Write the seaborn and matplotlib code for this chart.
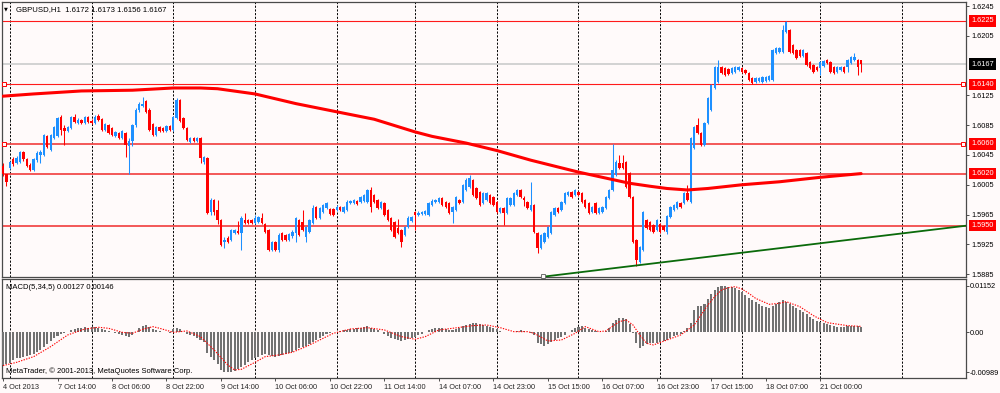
import numpy as np
import matplotlib
matplotlib.use("Agg")
import matplotlib.pyplot as plt
import matplotlib.transforms as mtransforms
import seaborn as sns

# ---------------- data (GBPUSD H1, 4 Oct 21:00 .. 21 Oct 12:00) ----------------
open_ = [
1.6030,1.6020,1.6028,1.6040,1.6034,1.6036,1.6049,1.6040,1.6032,1.6025,
1.6038,1.6045,1.6045,1.6071,1.6052,1.6068,1.6071,1.6096,1.6081,1.6077,
1.6081,1.6096,1.6088,1.6092,1.6088,1.6096,1.6091,1.6088,1.6097,1.6093,
1.6079,1.6085,1.6081,1.6071,1.6075,1.6068,1.6075,1.6057,1.6064,1.6085,
1.6105,1.6111,1.6118,1.6105,1.6087,1.6072,1.6083,1.6081,1.6077,1.6084,
1.6079,1.6095,1.6119,1.6095,1.6081,1.6062,1.6068,1.6064,1.6068,1.6036,
1.6041,1.5968,1.5985,1.5971,1.5958,1.5928,1.5933,1.5931,1.5940,1.5943,
1.5940,1.5958,1.5958,1.5958,1.5954,1.5955,1.5960,1.5952,1.5944,1.5917,
1.5928,1.5917,1.5940,1.5937,1.5931,1.5936,1.5940,1.5958,1.5955,1.5935,
1.5942,1.5954,1.5975,1.5960,1.5968,1.5974,1.5973,1.5973,1.5971,1.5975,
1.5968,1.5971,1.5981,1.5981,1.5983,1.5982,1.5983,1.5982,1.5998,1.5991,
1.5985,1.5974,1.5981,1.5971,1.5960,1.5955,1.5947,1.5944,1.5937,1.5948,
1.5956,1.5968,1.5964,1.5966,1.5966,1.5964,1.5978,1.5982,1.5982,1.5987,
1.5982,1.5981,1.5968,1.5971,1.5985,1.5982,1.5998,1.6002,1.6011,1.6001,
1.5995,1.5981,1.5985,1.5991,1.5989,1.5982,1.5968,1.5974,1.5967,1.5978,
1.5978,1.5991,1.5998,1.5987,1.5982,1.5971,1.5978,1.5940,1.5920,1.5928,
1.5935,1.5940,1.5964,1.5974,1.5971,1.5981,1.5991,1.5995,1.5991,1.5995,
1.5994,1.5985,1.5981,1.5968,1.5981,1.5967,1.5968,1.5974,1.5987,1.5998,
1.6018,1.6034,1.6034,1.6036,1.6021,1.5989,1.5931,1.5901,1.5917,1.5958,
1.5955,1.5951,1.5944,1.5952,1.5950,1.5942,1.5962,1.5971,1.5974,1.5981,
1.5981,1.5994,1.5982,1.6054,1.6085,1.6075,1.6058,1.6088,1.6105,1.6135,
1.6143,1.6163,1.6162,1.6161,1.6155,1.6156,1.6159,1.6162,1.6159,1.6155,
1.6148,1.6143,1.6144,1.6143,1.6144,1.6146,1.6146,1.6182,1.6183,1.6183,
1.6210,1.6213,1.6193,1.6186,1.6186,1.6178,1.6182,1.6170,1.6166,1.6163,
1.6162,1.6165,1.6173,1.6170,1.6163,1.6156,1.6159,1.6163,1.6163,1.6169,
1.6173,1.6173,1.6172]

high = [
1.6034,1.6020,1.6037,1.6042,1.6044,1.6050,1.6050,1.6041,1.6034,1.6041,
1.6050,1.6052,1.6073,1.6072,1.6073,1.6084,1.6096,1.6099,1.6085,1.6084,
1.6097,1.6100,1.6095,1.6093,1.6097,1.6097,1.6093,1.6099,1.6100,1.6095,
1.6088,1.6087,1.6083,1.6077,1.6076,1.6079,1.6076,1.6068,1.6087,1.6108,
1.6116,1.6123,1.6119,1.6108,1.6088,1.6084,1.6084,1.6083,1.6085,1.6085,
1.6097,1.6122,1.6120,1.6096,1.6083,1.6069,1.6069,1.6069,1.6069,1.6044,
1.6042,1.5987,1.5986,1.5985,1.5959,1.5935,1.5936,1.5946,1.5946,1.5956,
1.5963,1.5967,1.5959,1.5959,1.5964,1.5963,1.5967,1.5954,1.5946,1.5929,
1.5929,1.5940,1.5942,1.5939,1.5940,1.5944,1.5962,1.5959,1.5971,1.5950,
1.5959,1.5978,1.5977,1.5975,1.5979,1.5982,1.5974,1.5974,1.5978,1.5977,
1.5977,1.5985,1.5985,1.5986,1.5985,1.5990,1.5993,1.5999,1.6002,1.5993,
1.5986,1.5983,1.5982,1.5973,1.5962,1.5956,1.5959,1.5946,1.5950,1.5963,
1.5963,1.5970,1.5970,1.5970,1.5971,1.5982,1.5986,1.5986,1.5989,1.5989,
1.5983,1.5982,1.5977,1.5990,1.5986,1.6006,1.6014,1.6018,1.6013,1.6002,
1.5997,1.5995,1.5995,1.5993,1.5990,1.5983,1.5975,1.5975,1.5989,1.5989,
1.5995,1.5999,1.5999,1.5990,1.5983,1.6009,1.5979,1.5942,1.5939,1.5942,
1.5950,1.5970,1.5975,1.5975,1.5983,1.5995,1.5997,1.5997,1.5999,1.5997,
1.5995,1.5986,1.5982,1.5977,1.5982,1.5975,1.5977,1.5990,1.5999,1.6060,
1.6038,1.6045,1.6045,1.6037,1.6022,1.5990,1.5932,1.5923,1.5970,1.5959,
1.5956,1.5952,1.5959,1.5954,1.5951,1.5964,1.5977,1.5979,1.5983,1.5982,
1.5995,1.6005,1.6069,1.6084,1.6095,1.6076,1.6089,1.6123,1.6140,1.6165,
1.6173,1.6165,1.6163,1.6162,1.6163,1.6165,1.6165,1.6163,1.6161,1.6156,
1.6150,1.6150,1.6150,1.6151,1.6151,1.6152,1.6187,1.6190,1.6190,1.6220,
1.6225,1.6214,1.6194,1.6187,1.6187,1.6187,1.6183,1.6171,1.6167,1.6165,
1.6171,1.6173,1.6174,1.6171,1.6165,1.6165,1.6165,1.6165,1.6174,1.6178,
1.6182,1.6174,1.6173]

low = [
1.6017,1.6003,1.6026,1.6030,1.6033,1.6034,1.6037,1.6029,1.6024,1.6024,
1.6036,1.6034,1.6044,1.6054,1.6050,1.6066,1.6069,1.6072,1.6058,1.6076,
1.6080,1.6088,1.6087,1.6087,1.6087,1.6088,1.6087,1.6087,1.6091,1.6077,
1.6077,1.6073,1.6071,1.6069,1.6066,1.6066,1.6042,1.6020,1.6057,1.6083,
1.6103,1.6110,1.6101,1.6077,1.6071,1.6071,1.6076,1.6076,1.6076,1.6077,
1.6077,1.6093,1.6089,1.6080,1.6064,1.6061,1.6062,1.6062,1.6034,1.6033,
1.5966,1.5964,1.5964,1.5952,1.5923,1.5920,1.5927,1.5929,1.5939,1.5939,
1.5917,1.5952,1.5952,1.5952,1.5952,1.5954,1.5952,1.5940,1.5916,1.5916,
1.5916,1.5915,1.5929,1.5929,1.5929,1.5933,1.5928,1.5936,1.5943,1.5928,
1.5940,1.5952,1.5959,1.5959,1.5967,1.5973,1.5964,1.5963,1.5970,1.5970,
1.5967,1.5970,1.5979,1.5979,1.5978,1.5981,1.5982,1.5981,1.5968,1.5981,
1.5973,1.5973,1.5963,1.5956,1.5943,1.5933,1.5939,1.5921,1.5936,1.5947,
1.5955,1.5944,1.5963,1.5964,1.5964,1.5963,1.5977,1.5981,1.5981,1.5977,
1.5974,1.5966,1.5954,1.5970,1.5979,1.5981,1.5997,1.6001,1.5990,1.5986,
1.5977,1.5979,1.5983,1.5979,1.5977,1.5967,1.5967,1.5951,1.5966,1.5977,
1.5977,1.5990,1.5987,1.5977,1.5973,1.5970,1.5940,1.5913,1.5919,1.5927,
1.5933,1.5939,1.5963,1.5967,1.5970,1.5979,1.5990,1.5987,1.5990,1.5990,
1.5981,1.5974,1.5966,1.5967,1.5966,1.5966,1.5967,1.5973,1.5986,1.5997,
1.6017,1.6026,1.6026,1.6001,1.5987,1.5927,1.5896,1.5900,1.5916,1.5946,
1.5943,1.5940,1.5943,1.5940,1.5943,1.5939,1.5960,1.5970,1.5973,1.5974,
1.5979,1.5983,1.5981,1.6053,1.6073,1.6057,1.6057,1.6087,1.6104,1.6134,
1.6142,1.6154,1.6151,1.6152,1.6154,1.6155,1.6158,1.6155,1.6154,1.6144,
1.6140,1.6142,1.6143,1.6142,1.6143,1.6144,1.6144,1.6181,1.6182,1.6182,
1.6209,1.6182,1.6181,1.6174,1.6177,1.6177,1.6165,1.6161,1.6155,1.6158,
1.6152,1.6163,1.6167,1.6155,1.6154,1.6155,1.6158,1.6155,1.6156,1.6167,
1.6171,1.6152,1.6156]

close = [
1.6020,1.6009,1.6036,1.6033,1.6041,1.6049,1.6040,1.6030,1.6025,1.6040,
1.6048,1.6049,1.6072,1.6056,1.6072,1.6083,1.6095,1.6079,1.6077,1.6083,
1.6096,1.6089,1.6092,1.6088,1.6096,1.6089,1.6088,1.6096,1.6092,1.6079,
1.6087,1.6075,1.6072,1.6076,1.6068,1.6077,1.6058,1.6064,1.6085,1.6105,
1.6114,1.6114,1.6103,1.6079,1.6072,1.6083,1.6077,1.6077,1.6084,1.6079,
1.6096,1.6119,1.6091,1.6081,1.6065,1.6068,1.6064,1.6068,1.6041,1.6042,
1.5967,1.5985,1.5968,1.5958,1.5924,1.5931,1.5928,1.5944,1.5944,1.5940,
1.5960,1.5954,1.5954,1.5954,1.5960,1.5962,1.5954,1.5942,1.5917,1.5928,
1.5917,1.5937,1.5931,1.5931,1.5939,1.5942,1.5960,1.5937,1.5944,1.5948,
1.5958,1.5974,1.5960,1.5974,1.5978,1.5981,1.5966,1.5964,1.5975,1.5971,
1.5975,1.5982,1.5983,1.5985,1.5979,1.5989,1.5991,1.5998,1.5975,1.5982,
1.5974,1.5982,1.5964,1.5958,1.5944,1.5935,1.5940,1.5928,1.5948,1.5960,
1.5962,1.5964,1.5967,1.5968,1.5970,1.5981,1.5983,1.5985,1.5987,1.5978,
1.5975,1.5967,1.5975,1.5989,1.5981,1.6005,1.6011,1.6014,1.5991,1.5987,
1.5978,1.5994,1.5994,1.5981,1.5978,1.5968,1.5974,1.5967,1.5987,1.5987,
1.5994,1.5998,1.5989,1.5985,1.5974,1.5978,1.5942,1.5920,1.5937,1.5940,
1.5948,1.5968,1.5974,1.5968,1.5982,1.5994,1.5995,1.5989,1.5998,1.5991,
1.5982,1.5975,1.5967,1.5975,1.5967,1.5974,1.5975,1.5989,1.5998,1.6025,
1.6036,1.6028,1.6028,1.6002,1.5989,1.5928,1.5904,1.5921,1.5968,1.5947,
1.5944,1.5942,1.5958,1.5942,1.5944,1.5963,1.5975,1.5978,1.5982,1.5975,
1.5994,1.5985,1.6068,1.6083,1.6075,1.6058,1.6088,1.6122,1.6139,1.6163,
1.6163,1.6155,1.6152,1.6154,1.6162,1.6163,1.6163,1.6156,1.6155,1.6146,
1.6142,1.6148,1.6148,1.6150,1.6150,1.6151,1.6186,1.6189,1.6189,1.6213,
1.6224,1.6183,1.6182,1.6175,1.6178,1.6186,1.6166,1.6162,1.6156,1.6159,
1.6170,1.6171,1.6169,1.6156,1.6155,1.6163,1.6163,1.6156,1.6173,1.6177,
1.6177,1.6163,1.6167]

# moving average (thick red line), sampled bar index -> price
ma_idx = [0, 9, 23, 38, 50, 58, 63, 74, 86, 98, 109, 121, 126, 136, 145, 155,
          169, 179, 184, 190, 195, 201, 207, 217, 228, 240, 252]
ma_val = [1.6124, 1.6127, 1.6131, 1.6132, 1.6135, 1.6135, 1.6134, 1.6127, 1.6114,
          1.6103, 1.6093, 1.6076, 1.6070, 1.6061, 1.6051, 1.6038, 1.6022, 1.6012,
          1.6007, 1.6003, 1.6000, 1.5998, 1.6000, 1.6005, 1.6009, 1.6015, 1.6020]

# MACD(5,34,5) main histogram, one value per bar
macd_main = [
-0.00808,-0.00791,-0.00766,-0.00684,-0.00643,-0.00626,-0.00602,-0.00585,-0.00560,-0.00544,
-0.00494,-0.00437,-0.00354,-0.00288,-0.00214,-0.00148,-0.00082,-0.00033,-0.00016,0.00016,
0.00049,0.00082,0.00099,0.00115,0.00124,0.00115,0.00124,0.00124,0.00115,0.00082,
0.00049,0.00033,0.0,-0.00025,-0.00041,-0.00066,-0.00091,-0.00115,-0.00066,0.0,
0.00099,0.00165,0.00181,0.00124,0.00082,0.00058,0.00033,0.00016,0.0,-0.00016,
0.00074,0.00115,0.00074,0.00016,-0.00033,-0.00066,-0.00099,-0.00132,-0.00190,-0.00231,
-0.00519,-0.00602,-0.00684,-0.00791,-0.00931,-0.00972,-0.00989,-0.00972,-0.00948,-0.00906,
-0.00849,-0.00808,-0.00742,-0.00684,-0.00643,-0.00602,-0.00560,-0.00544,-0.00560,-0.00585,
-0.00602,-0.00585,-0.00560,-0.00536,-0.00511,-0.00478,-0.00437,-0.00396,-0.00354,-0.00330,
-0.00297,-0.00231,-0.00190,-0.00132,-0.00082,-0.00041,-0.00016,0.0,0.00016,0.00033,
0.00049,0.00066,0.00082,0.00091,0.00099,0.00107,0.00132,0.00148,0.00115,0.00082,
0.00049,0.00016,-0.00033,-0.00082,-0.00132,-0.00165,-0.00198,-0.00214,-0.00198,-0.00173,
-0.00148,-0.00107,-0.00066,-0.00041,0.0,0.00058,0.00091,0.00107,0.00115,0.00099,
0.00082,0.00058,0.00058,0.00082,0.00099,0.00148,0.00181,0.00214,0.00239,0.00222,
0.00198,0.00181,0.00157,0.00124,0.00099,0.00074,0.00033,0.00016,0.0,0.0,
0.00008,0.00033,0.00049,0.00041,0.00016,-0.00008,-0.00066,-0.00272,-0.00297,-0.00330,
-0.00288,-0.00231,-0.00190,-0.00148,-0.00115,-0.00066,0.0,0.00058,0.00099,0.00132,
0.00157,0.00115,0.00082,0.00049,0.00025,0.00008,0.0,0.00033,0.00115,0.00222,
0.00305,0.00346,0.00363,0.00330,0.00198,-0.00025,-0.00272,-0.00379,-0.00330,-0.00288,
-0.00272,-0.00272,-0.00255,-0.00231,-0.00214,-0.00190,-0.00148,-0.00099,-0.00066,-0.00049,
0.00033,0.00099,0.00222,0.00552,0.00651,0.00659,0.00709,0.00816,0.00939,0.01046,
0.01121,0.01152,0.01150,0.01129,0.01112,0.01088,0.01046,0.00989,0.00923,0.00857,
0.00791,0.00742,0.00692,0.00659,0.00626,0.00593,0.00659,0.00692,0.00742,0.00791,
0.00758,0.00709,0.00659,0.00610,0.00560,0.00511,0.00445,0.00379,0.00321,0.00280,
0.00255,0.00231,0.00206,0.00181,0.00157,0.00140,0.00124,0.00132,0.00148,0.00165,
0.00157,0.00157,0.00127]

# MACD signal line (red dotted), sampled bar index -> value
sig_idx = [0,4,9,14,19,24,28,31,35,38,41,44,46,50,54,58,62,66,68,70,
           74,77,81,85,89,93,97,102,107,112,117,121,124,128,132,138,142,146,150,154,
           156,160,164,168,171,175,177,181,183,185,187,189,191,195,199,203,205,207,209,211,
           213,215,217,219,221,225,228,230,234,238,242,248,252]
sig_val = [-0.00824,-0.00742,-0.00602,-0.00354,-0.00066,0.00082,0.00124,0.00099,0.0,-0.00025,
           0.00074,0.00140,0.00099,0.0,0.00033,-0.00107,-0.00437,-0.00808,-0.00931,-0.00915,
           -0.00742,-0.00602,-0.00560,-0.00494,-0.00354,-0.00190,-0.00025,0.00082,0.00115,0.00058,
           -0.00107,-0.00173,-0.00107,0.00058,0.00099,0.00165,0.00181,0.00115,0.00016,0.00016,
           -0.00025,-0.00214,-0.00190,-0.00025,0.00140,0.00016,0.00033,0.00264,0.00305,0.00181,
           -0.00066,-0.00272,-0.00313,-0.00190,-0.00066,0.00181,0.00428,0.00676,0.00882,0.01046,
           0.01104,0.01129,0.01071,0.00964,0.00840,0.00692,0.00717,0.00758,0.00634,0.00412,
           0.00239,0.00165,0.00146]

level_lines = [1.6225, 1.6140, 1.6060, 1.6020, 1.5950]
level_thick = [False, False, True, True, True]
bid_price = 1.6167
trend_x = [158.6, 282.8]
trend_y = [1.58815, 1.59500]

day_starts = [2, 26, 50, 74, 98, 121, 145, 169, 193, 217, 240, 264]
tick_pos = [0, 16, 32, 48, 64, 80, 96, 112, 128, 144, 160, 176, 192, 208, 224, 240]
tick_labels = ["4 Oct 2013", "7 Oct 14:00", "8 Oct 06:00", "8 Oct 22:00", "9 Oct 14:00",
               "10 Oct 06:00", "10 Oct 22:00", "11 Oct 14:00", "14 Oct 07:00", "14 Oct 23:00",
               "15 Oct 15:00", "16 Oct 07:00", "16 Oct 23:00", "17 Oct 15:00", "18 Oct 07:00",
               "21 Oct 00:00"]
price_ticks = [1.6245, 1.6205, 1.6125, 1.6085, 1.6045, 1.6005, 1.5965, 1.5925, 1.5885]
macd_ticks = [0.01152, 0.0, -0.00989]
macd_tick_labels = ["0.01152", "0.00", "-0.00989"]

# ---------------- styling ----------------
sns.set_theme(style="white")
plt.rcParams["font.family"] = ["Liberation Sans", "DejaVu Sans"]
BG = "#FFFAFA"
FS = 5.3
UP, DOWN = "#1E90FF", "#FF0000"

fig = plt.figure(figsize=(10, 3.93), dpi=100, facecolor=BG)
ax = fig.add_axes([0.002, 0.29517, 0.964, 0.69975])
ax2 = fig.add_axes([0.002, 0.03817, 0.964, 0.25191])

xlim = (-0.3, 282.8)
for a in (ax, ax2):
    a.set_facecolor(BG)
    a.set_xlim(*xlim)
    for s in a.spines.values():
        s.set_color("#4a4a4a")
        s.set_linewidth(0.9)
    for d in day_starts:
        a.axvline(d, color="black", lw=0.7, ls=(0, (2.2, 1.6)), zorder=1)
    a.yaxis.tick_right()
    a.tick_params(axis="y", which="both", left=False, right=True, length=2.5, width=0.6,
                  color="#333333", pad=1.5, labelsize=FS, labelcolor="black")

# ---------------- price panel ----------------
o = np.array(open_); h = np.array(high); l = np.array(low); c = np.array(close)
x = np.arange(len(c))
cols = np.where(c >= o, UP, DOWN)

ax.axhline(bid_price, color="#CFCFCF", lw=1.3, zorder=1.5)
for lv, thick in zip(level_lines, level_thick):
    if thick:
        ax.axhline(lv, color="#F24A4A", lw=1.3, zorder=1.6)
    else:
        ax.axhline(lv, color="#FF1A1A", lw=0.8, zorder=1.6)

ax.vlines(x, l, h, colors=cols, lw=0.75, zorder=3)
body = np.maximum(np.abs(c - o), 0.00011)
ax.bar(x, body, bottom=np.minimum(o, c), width=0.7, color=cols, linewidth=0, zorder=4)

sns.lineplot(x=ma_idx, y=ma_val, ax=ax, color="#FF0000", linewidth=2.2,
             estimator=None, sort=False, zorder=5)
sns.lineplot(x=trend_x, y=trend_y, ax=ax, color="#0A6A0A", linewidth=1.3,
             estimator=None, sort=False, zorder=5)

ax.set_ylim(1.58811, 1.62505)
ax.set_yticks(price_ticks)
ax.set_yticklabels([f"{v:.4f}" for v in price_ticks])
ax.set_xticks([])
ax.set_xlabel(""); ax.set_ylabel("")

# handles of selected objects
bt = mtransforms.blended_transform_factory(ax.transAxes, ax.transData)
for lv in (1.6140, 1.6060):
    ax.plot([0.0024, 0.9969], [lv, lv], ls="none", marker="s", ms=3, mfc=BG,
            mec="#FF0000", mew=0.7, transform=bt, zorder=6, clip_on=False)
ax.plot([trend_x[0]], [trend_y[0] + 0.00006], ls="none", marker="s", ms=3, mfc=BG,
        mec="#707070", mew=0.7, zorder=6, clip_on=False)

# right-side price boxes
for lv in level_lines:
    ax.text(1.0052, lv, f"{lv:.4f}", transform=bt, ha="left", va="center", fontsize=FS,
            color="white", bbox=dict(boxstyle="square,pad=0.3", fc="#FF0000", ec="none"),
            zorder=7, clip_on=False)
ax.text(1.0052, bid_price, f"{bid_price:.4f}", transform=bt, ha="left", va="center",
        fontsize=FS, color="white", bbox=dict(boxstyle="square,pad=0.3", fc="black", ec="none"),
        zorder=7, clip_on=False)

ax.text(0.0042, 0.974, "\u25BC", transform=ax.transAxes, ha="center", va="center",
        fontsize=3.6, color="black", family="DejaVu Sans")
ax.text(0.0145, 0.974, "GBPUSD,H1  1.6172 1.6173 1.6156 1.6167", transform=ax.transAxes,
        ha="left", va="center", fontsize=5.6, color="black")

# ---------------- MACD panel ----------------
ax2.bar(x, macd_main, width=0.6, color="#727272", linewidth=0, zorder=3)
sns.lineplot(x=sig_idx, y=sig_val, ax=ax2, color="#FF0000", linewidth=0.8,
             linestyle=(0, (1.2, 1.2)), estimator=None, sort=False, zorder=4)
ax2.set_ylim(-0.01130, 0.01318)
ax2.set_yticks(macd_ticks)
ax2.set_yticklabels(macd_tick_labels)
ax2.tick_params(axis="y", pad=1.0, length=2.0)
ax2.set_xticks(tick_pos)
ax2.set_xticklabels(tick_labels, ha="left", fontsize=FS)
ax2.tick_params(axis="x", direction="out", length=2.5, width=0.6, color="#333333",
                pad=1.5, bottom=True)
ax2.set_xlabel(""); ax2.set_ylabel("")

ax2.text(0.0042, 0.915, "MACD(5,34,5) 0.00127 0.00146", transform=ax2.transAxes,
         ha="left", va="center", fontsize=5.5, color="black")
ax2.text(0.0042, 0.064, "MetaTrader, \u00a9 2001-2013, MetaQuotes Software Corp.",
         transform=ax2.transAxes, ha="left", va="center", fontsize=5.5, color="black")

fig.savefig("out.png", dpi=100, facecolor=BG)
